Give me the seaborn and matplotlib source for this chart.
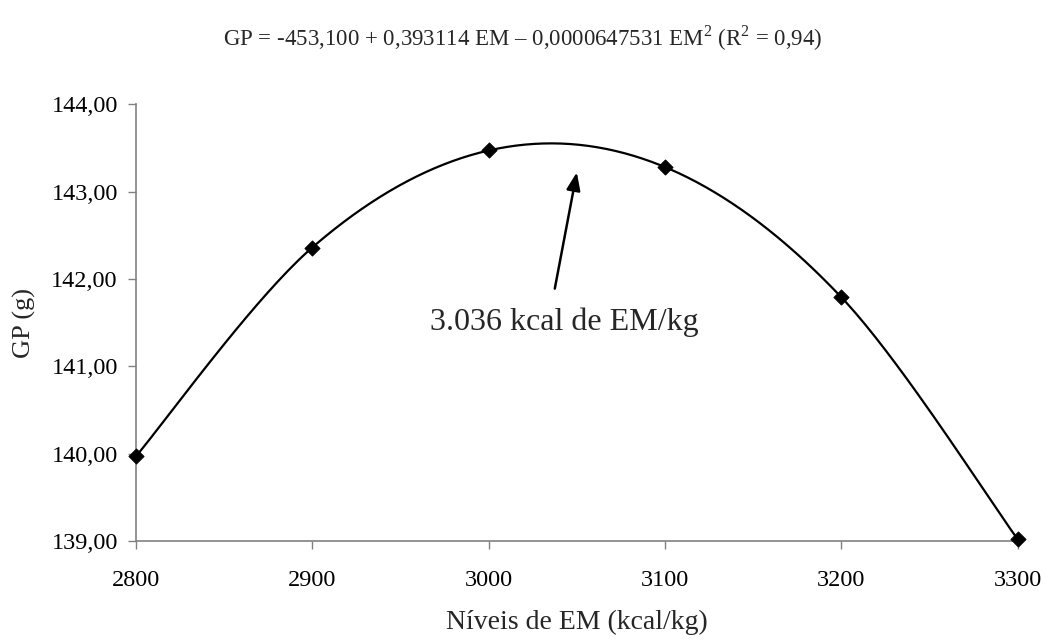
import numpy as np
import pandas as pd
import matplotlib
matplotlib.use("Agg")
import matplotlib.pyplot as plt
import seaborn as sns

# Energy levels (kcal/kg) and weight gain (g)
em_levels = [2800, 2900, 3000, 3100, 3200, 3300]
gp_values = [139.97, 142.36, 143.47, 143.28, 141.79, 139.02]
y_ticks = [139.0, 140.0, 141.0, 142.0, 143.0, 144.0]
x_ticks = [2800, 2900, 3000, 3100, 3200, 3300]

title_text = "GP = -453,100 + 0,393114 EM – 0,0000647531 EM$^2$ (R$^2$ = 0,94)"
note_text = "3.036 kcal de EM/kg"
optimum_em = 3050
optimum_gp = 143.22

sns.set_theme(style="white")
plt.rcParams["font.family"] = ["Liberation Serif", "DejaVu Serif"]
plt.rcParams["mathtext.fontset"] = "custom"
plt.rcParams["mathtext.rm"] = "Liberation Serif"


def smooth_curve(xs, ys, steps=40):
    """Catmull-Rom style smoothing through the given points."""
    xs = np.asarray(xs, float)
    ys = np.asarray(ys, float)
    px = np.concatenate([[xs[0]], xs, [xs[-1]]])
    py = np.concatenate([[ys[0]], ys, [ys[-1]]])
    out_x, out_y = [], []
    for i in range(1, len(px) - 2):
        p0 = np.array([px[i - 1], py[i - 1]])
        p1 = np.array([px[i], py[i]])
        p2 = np.array([px[i + 1], py[i + 1]])
        p3 = np.array([px[i + 2], py[i + 2]])
        c1 = p1 + (p2 - p0) / 6.0
        c2 = p2 - (p3 - p1) / 6.0
        t = np.linspace(0, 1, steps)[:, None]
        pts = ((1 - t) ** 3) * p1 + 3 * ((1 - t) ** 2) * t * c1 + 3 * (1 - t) * t ** 2 * c2 + t ** 3 * p2
        out_x.extend(pts[:, 0])
        out_y.extend(pts[:, 1])
    return np.array(out_x), np.array(out_y)


df = pd.DataFrame({"EM": em_levels, "GP": gp_values})
sx, sy = smooth_curve(em_levels, gp_values)
curve = pd.DataFrame({"EM": sx, "GP": sy})

fig = plt.figure(figsize=(10.45, 6.39), dpi=100)
ax = fig.add_axes([0.130, 0.153, 0.844, 0.684])

sns.lineplot(data=curve, x="EM", y="GP", ax=ax, color="black", linewidth=1.6,
             sort=False, estimator=None)
sns.scatterplot(data=df, x="EM", y="GP", ax=ax, color="black", marker="D",
                s=60, edgecolor="black", zorder=5, clip_on=False)

ax.set_xlim(2800, 3300)
ax.set_ylim(139, 144)
ax.set_xticks(x_ticks)
ax.set_xticklabels([str(v) for v in x_ticks], fontsize=17.5)
ax.set_yticks(y_ticks)
ax.set_yticklabels([f"{v:.2f}".replace(".", ",") for v in y_ticks], fontsize=17.5)

for side in ("top", "right"):
    ax.spines[side].set_visible(False)
for side in ("left", "bottom"):
    ax.spines[side].set_color("#808080")
    ax.spines[side].set_linewidth(1.2)
ax.tick_params(axis="both", direction="out", length=6, width=1, color="#808080",
               bottom=True, left=True, labelcolor="black")
ax.tick_params(axis="x", pad=15)
ax.tick_params(axis="y", pad=7)

ax.set_xlabel("Níveis de EM (kcal/kg)", fontsize=20, labelpad=13)
ax.set_ylabel("GP (g)", fontsize=19, labelpad=11)

# arrow pointing at the estimated optimum, with its label below
ax.annotate("", xy=(optimum_em, optimum_gp), xytext=(3037.5, 141.89),
            arrowprops=dict(arrowstyle="-|>,head_length=0.9,head_width=0.35",
                            color="black", lw=1.8, shrinkA=0, shrinkB=0))
ax.text(3043, 141.50, note_text, ha="center", va="center", fontsize=23)

fig.text(0.5, 0.94, title_text, ha="center", va="center", fontsize=16.5)

fig.savefig("out.png", dpi=100, facecolor="white")
